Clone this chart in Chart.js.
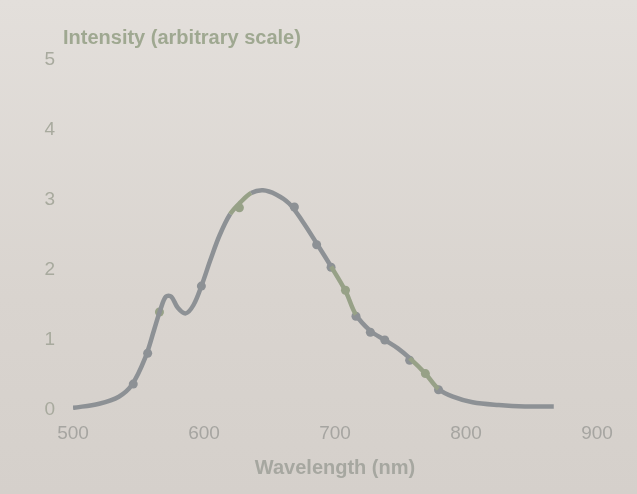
<!DOCTYPE html>
<html>
<head>
<meta charset="utf-8">
<script src="https://cdn.jsdelivr.net/npm/chart.js@4"></script>
<style>
  html, body { margin: 0; padding: 0; }
  body { background: linear-gradient(#e3dfdb, #d9d4cf 60%, #d5d0cb); }
  #wrap { width: 637px; height: 494px; }
</style>
</head>
<body>
<div id="wrap"><canvas id="chart"></canvas></div>
<script>
// smooth spectrum curve (wavelength nm, intensity)
const curveNm = [500,520,535,545,555,562,567,571,575,580,586,592,598,605,612,620,628,636,645,655,665,675,686,697,708,716,727,738,748,757,769,779,790,805,825,845,867];
const curveVal = [0.03,0.09,0.19,0.36,0.74,1.15,1.45,1.62,1.62,1.46,1.38,1.5,1.77,2.15,2.5,2.8,2.97,3.1,3.14,3.08,2.95,2.7,2.38,2.05,1.7,1.36,1.13,1.0,0.88,0.74,0.52,0.3,0.19,0.11,0.07,0.05,0.05];

// measured points
const dotNm = [546,557,566,598,627,669,686,697,708,716,727,738,757,769,779];
const dotVal = [0.37,0.81,1.4,1.77,2.89,2.9,2.36,2.04,1.71,1.34,1.11,1.0,0.71,0.52,0.29];

const xTicks = [500,600,700,800,900];
const yTicks = [0,1,2,3,4,5];

const grey = '#8d9195';
const green = '#97a187';
const dotColors = dotNm.map(n => [566,627,708,769].includes(n) ? green : grey);

const yTitle = {
  id: 'yTitle',
  afterDraw(chart) {
    const c = chart.ctx;
    c.save();
    c.font = 'bold 20px "Liberation Sans", Arial, sans-serif';
    c.fillStyle = '#9fa891';
    c.textBaseline = 'middle';
    c.fillText('Intensity (arbitrary scale)', 63, 38);
    c.restore();
  }
};

const chart = new Chart(document.getElementById('chart'), {
  type: 'line',
  data: {
    datasets: [
      {
        data: curveNm.map((n, i) => ({x: n, y: curveVal[i]})),
        borderColor: grey,
        borderWidth: 4.5,
        pointRadius: 0,
        tension: 0.35,
        segment: {
          borderColor: ctx => {
            const x = ctx.p0.parsed.x;
            return (x >= 620 && x < 636) || (x >= 697 && x < 716) || (x >= 757 && x < 779) ? green : grey;
          }
        }
      },
      {
        data: dotNm.map((n, i) => ({x: n, y: dotVal[i]})),
        showLine: false,
        pointRadius: 4.5,
        pointBackgroundColor: dotColors,
        pointBorderWidth: 0
      }
    ]
  },
  options: {
    responsive: true,
    maintainAspectRatio: false,
    animation: false,
    layout: { padding: { top: 60, right: 40, left: 0, bottom: 0 } },
    plugins: { legend: { display: false }, tooltip: { enabled: false } },
    scales: {
      x: {
        type: 'linear',
        min: 500, max: 900,
        afterBuildTicks: s => { s.ticks = xTicks.map(v => ({value: v})); },
        afterFit: s => { s.height = 84; },
        grid: { display: false, drawTicks: false },
        border: { display: false },
        ticks: { color: '#a6a5a1', padding: 12, font: { size: 19, family: '"Liberation Sans", Arial' } },
        title: {
          display: true,
          text: 'Wavelength (nm)',
          color: '#a6a7a0',
          padding: { top: 0, bottom: 14 },
          font: { size: 20, weight: 'bold', family: '"Liberation Sans", Arial' }
        }
      },
      y: {
        min: 0, max: 5,
        afterBuildTicks: s => { s.ticks = yTicks.map(v => ({value: v})); },
        afterFit: s => { s.width = 73; },
        grid: { display: false, drawTicks: false },
        border: { display: false },
        ticks: { color: '#a8aa9e', padding: 18, font: { size: 19, family: '"Liberation Sans", Arial' } }
      }
    }
  },
  plugins: [yTitle]
});
</script>
</body>
</html>
